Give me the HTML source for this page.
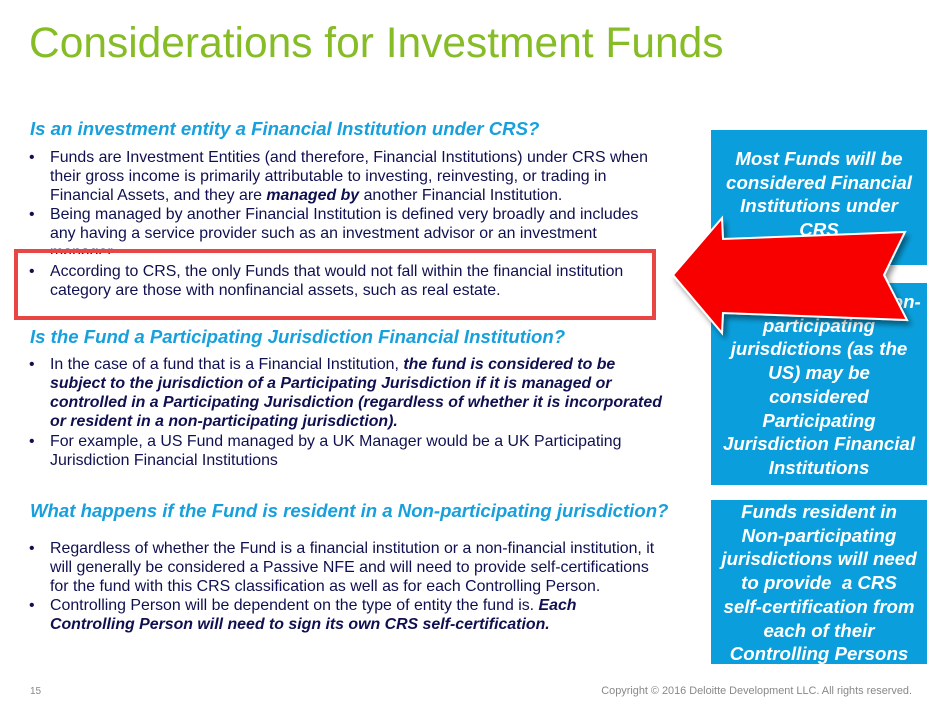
<!DOCTYPE html>
<html><head><meta charset="utf-8"><style>
body{margin:0;width:944px;height:706px;background:#fff;position:relative;overflow:hidden;font-family:"Liberation Sans",sans-serif}
.a{position:absolute;white-space:nowrap}
.t{font-size:42.5px;color:#86bc25;left:29px;top:20px}
.h{font-size:18.6px;font-weight:bold;font-style:italic;color:#17a0dc;left:30px}
.l{font-size:15.9px;color:#101050;left:50px;line-height:19px}
.b{font-size:15.9px;color:#101050;left:29px;line-height:19px}
.box{position:absolute;left:711px;width:216px;background:#0a9fdc;color:#fff;font-weight:bold;font-style:italic;font-size:18.7px;line-height:23.7px;text-align:center;overflow:hidden}
</style></head><body>
<div class="a t">Considerations for Investment Funds</div>

<div class="a h" style="top:118px">Is an investment entity a Financial Institution under CRS?</div>
<div class="a b" style="top:148px">•</div>
<div class="a l" style="top:148px">Funds are Investment Entities (and therefore, Financial Institutions) under CRS when<br>their gross income is primarily attributable to investing, reinvesting, or trading in<br>Financial Assets, and they are <b><i>managed by</i></b> another Financial Institution.</div>
<div class="a b" style="top:205px">•</div>
<div class="a l" style="top:205px;height:49px;overflow:hidden">Being managed by another Financial Institution is defined very broadly and includes<br>any having a service provider such as an investment advisor or an investment<br>manager.</div>
<div class="a b" style="top:262px">•</div>
<div class="a l" style="top:262px">According to CRS, the only Funds that would not fall within the financial institution<br>category are those with nonfinancial assets, such as real estate.</div>
<div class="a" style="left:14px;top:249px;width:634px;height:63px;border:4px solid #e84545"></div>

<div class="a h" style="top:326px">Is the Fund a Participating Jurisdiction Financial Institution?</div>
<div class="a b" style="top:355px">•</div>
<div class="a l" style="top:355px">In the case of a fund that is a Financial Institution, <b><i>the fund is considered to be<br>subject to the jurisdiction of a Participating Jurisdiction if it is managed or<br>controlled in a Participating Jurisdiction (regardless of whether it is incorporated<br>or resident in a non-participating jurisdiction).</i></b></div>
<div class="a b" style="top:432px">•</div>
<div class="a l" style="top:432px">For example, a US Fund managed by a UK Manager would be a UK Participating<br>Jurisdiction Financial Institutions</div>

<div class="a h" style="top:500px">What happens if the Fund is resident in a Non-participating jurisdiction?</div>
<div class="a b" style="top:539px">•</div>
<div class="a l" style="top:539px">Regardless of whether the Fund is a financial institution or a non-financial institution, it<br>will generally be considered a Passive NFE and will need to provide self-certifications<br>for the fund with this CRS classification as well as for each Controlling Person.</div>
<div class="a b" style="top:596px">•</div>
<div class="a l" style="top:596px">Controlling Person will be dependent on the type of entity the fund is. <b><i>Each<br>Controlling Person will need to sign its own CRS self-certification.</i></b></div>

<div class="box" style="top:130px;height:135px;padding-top:17px;box-sizing:border-box">Most Funds will be<br>considered Financial<br>Institutions under<br>CRS</div>
<div class="box" style="top:283px;height:202px;padding-top:7px;box-sizing:border-box">Funds resident in Non-<br>participating<br>jurisdictions (as the<br>US) may be<br>considered<br>Participating<br>Jurisdiction Financial<br>Institutions</div>
<div class="box" style="top:500px;height:164px;box-sizing:border-box">Funds resident in<br>Non-participating<br>jurisdictions will need<br>to provide &nbsp;a CRS<br>self-certification from<br>each of their<br>Controlling Persons</div>

<svg class="a" style="left:0;top:0" width="944" height="706">
<defs><filter id="s" x="-20%" y="-20%" width="140%" height="140%"><feDropShadow dx="3" dy="4" stdDeviation="3" flood-color="#000" flood-opacity="0.45"/></filter></defs>
<polygon points="673,275 722,218 723,239 905,232 884,275 907,320 723,313 722,333" fill="#f80000" stroke="#fff" stroke-width="2" filter="url(#s)"/>
</svg>

<div class="a" style="left:30px;top:686px;font-size:10px;color:#888">15</div>
<div class="a" style="right:32px;top:685px;font-size:10.9px;color:#888">Copyright © 2016 Deloitte Development LLC. All rights reserved.</div>
</body></html>
